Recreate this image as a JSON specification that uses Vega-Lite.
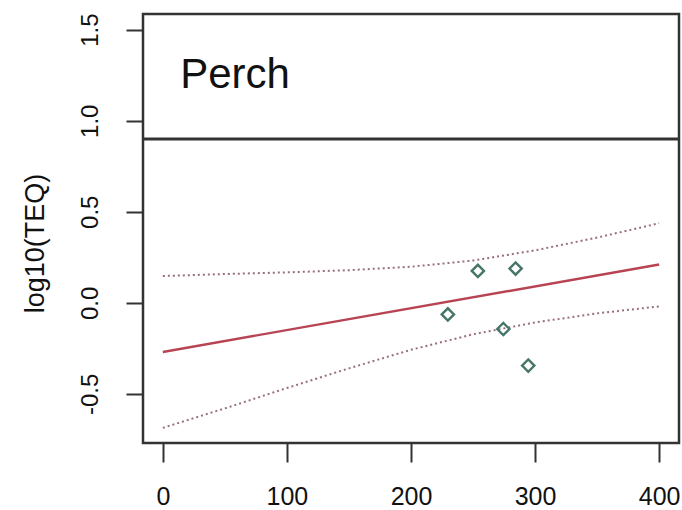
{
  "$schema": "https://vega.github.io/schema/vega-lite/v6.json",
  "width": 536,
  "height": 429,
  "autosize": "none",
  "padding": {"left": 143, "top": 14, "right": 3, "bottom": 67},
  "background": "white",
  "config": {
    "view": {"stroke": "#333333", "strokeWidth": 2.5},
    "font": "Liberation Sans"
  },
  "datasets": {
    "fit": [
      {"x": 0, "y": -0.27},
      {"x": 400, "y": 0.21}
    ],
    "upper": [
      {"x": 0, "y": 0.147},
      {"x": 50, "y": 0.158},
      {"x": 100, "y": 0.167},
      {"x": 150, "y": 0.179},
      {"x": 200, "y": 0.198},
      {"x": 250, "y": 0.232},
      {"x": 300, "y": 0.288},
      {"x": 350, "y": 0.358},
      {"x": 400, "y": 0.437}
    ],
    "lower": [
      {"x": 0, "y": -0.687},
      {"x": 50, "y": -0.58},
      {"x": 100, "y": -0.468},
      {"x": 150, "y": -0.36},
      {"x": 200, "y": -0.258},
      {"x": 250, "y": -0.173},
      {"x": 300, "y": -0.108},
      {"x": 350, "y": -0.058},
      {"x": 400, "y": -0.02}
    ],
    "points": [
      {"x": 229.7, "y": -0.064},
      {"x": 253.9, "y": 0.175},
      {"x": 284.3, "y": 0.188},
      {"x": 274.4, "y": -0.144},
      {"x": 294.5, "y": -0.345}
    ],
    "labels": [
      {"x": 14, "y": 1.25, "label": "Perch"}
    ],
    "hline": [
      {"y": 0.9}
    ]
  },
  "encoding": {
    "x": {
      "field": "x",
      "type": "quantitative",
      "scale": {"domain": [-16, 416], "nice": false, "zero": false},
      "axis": {
        "title": null,
        "values": [0, 100, 200, 300, 400],
        "domain": false,
        "grid": false,
        "tickSize": 19,
        "tickWidth": 2,
        "tickColor": "#333333",
        "labelFontSize": 25,
        "labelColor": "#111111",
        "labelPadding": 22,
        "labelFont": "Liberation Sans"
      }
    },
    "y": {
      "field": "y",
      "type": "quantitative",
      "scale": {"domain": [-0.77, 1.586], "nice": false, "zero": false},
      "axis": {
        "title": "log10(TEQ)",
        "values": [-0.5, 0, 0.5, 1, 1.5],
        "labelExpr": "replace(format(datum.value, '.1f'), '\u2212', '-')",
        "domain": false,
        "grid": false,
        "tickSize": 17,
        "tickWidth": 2,
        "tickColor": "#333333",
        "labelAngle": -90,
        "labelAlign": "center",
        "labelBaseline": "bottom",
        "labelFontSize": 24,
        "labelColor": "#111111",
        "labelPadding": 24,
        "labelFont": "Liberation Sans",
        "titleFontSize": 27,
        "titleFontWeight": "normal",
        "titleColor": "#111111",
        "titleFont": "Liberation Sans",
        "titleX": -108,
        "titleY": 229,
        "titleAngle": -90,
        "titleAlign": "center",
        "titleBaseline": "middle"
      }
    }
  },
  "layer": [
    {
      "data": {"name": "hline"},
      "mark": {"type": "rule", "color": "#333333", "strokeWidth": 3},
      "encoding": {"x": null}
    },
    {
      "data": {"name": "upper"},
      "mark": {"type": "line", "color": "#987078", "strokeWidth": 2, "strokeDash": [2, 3]}
    },
    {
      "data": {"name": "lower"},
      "mark": {"type": "line", "color": "#987078", "strokeWidth": 2, "strokeDash": [2, 3]}
    },
    {
      "data": {"name": "fit"},
      "mark": {"type": "line", "color": "#b84453", "strokeWidth": 2.4}
    },
    {
      "data": {"name": "points"},
      "mark": {"type": "point", "shape": "diamond", "filled": false, "size": 150, "stroke": "#46766a", "strokeWidth": 2.4, "opacity": 1}
    },
    {
      "data": {"name": "labels"},
      "mark": {"type": "text", "align": "left", "baseline": "middle", "fontSize": 42, "font": "Liberation Sans", "color": "#111111"},
      "encoding": {"text": {"field": "label"}}
    }
  ]
}
